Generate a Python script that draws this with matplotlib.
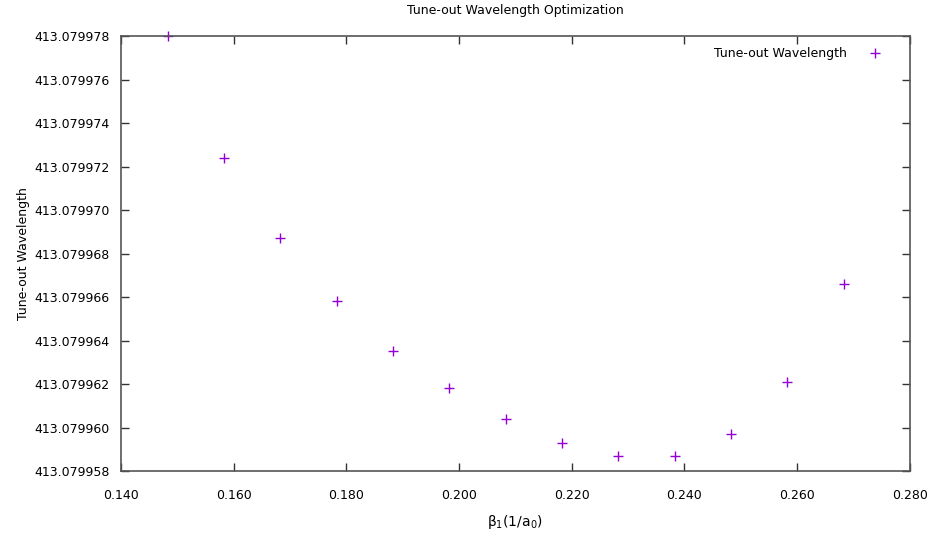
import matplotlib.pyplot as plt
from matplotlib.ticker import FuncFormatter, MultipleLocator

# beta_1 values and tune-out wavelengths
beta1 = [0.1483, 0.1583, 0.1683, 0.1783, 0.1883, 0.1983, 0.2083,
         0.2183, 0.2283, 0.2383, 0.2483, 0.2583, 0.2683]
wavelength = [413.0799780, 413.0799724, 413.0799687, 413.0799658, 413.0799635,
              413.0799618, 413.0799604, 413.0799593, 413.0799587, 413.0799587,
              413.0799597, 413.0799621, 413.0799666]

xticks = [0.140, 0.160, 0.180, 0.200, 0.220, 0.240, 0.260, 0.280]

plt.rcParams['font.family'] = ['DejaVu Sans']
plt.rcParams['font.size'] = 9

fig = plt.figure(figsize=(9.31, 5.35), dpi=100)
ax = fig.add_axes([0.130, 0.1196, 0.847, 0.8131])

ax.plot(beta1, wavelength, linestyle='none', marker='+', markersize=6.5,
        markeredgewidth=1.0, color='#9400d3', label='Tune-out Wavelength',
        clip_on=False)

ax.set_xlim(0.140, 0.280)
ax.set_ylim(413.079958, 413.079978)
ax.set_xticks(xticks)
ax.xaxis.set_major_formatter(FuncFormatter(lambda v, p: '%.3f' % v))
ax.yaxis.set_major_locator(MultipleLocator(0.000002))
ax.yaxis.set_major_formatter(FuncFormatter(lambda v, p: '%.6f' % v))

ax.tick_params(direction='in', length=6, width=1, top=True, right=True,
               colors='#333333', labelcolor='black')
ax.tick_params(axis='x', pad=13)
ax.tick_params(axis='y', pad=8)
for s in ax.spines.values():
    s.set_color('#555555')
    s.set_linewidth(1.2)

ax.set_title('Tune-out Wavelength Optimization', fontsize=9, pad=15.5)
ax.set_xlabel(r'$\mathregular{\beta_1(1/a_0)}$', fontsize=10, labelpad=8)
ax.set_ylabel('Tune-out Wavelength', fontsize=9, labelpad=3)

ax.legend(loc='upper right', bbox_to_anchor=(0.9873, 1.003), frameon=False,
          markerfirst=False, handlelength=2.0, handletextpad=1.2,
          borderaxespad=0.6)

fig.savefig('out.png', dpi=100)
